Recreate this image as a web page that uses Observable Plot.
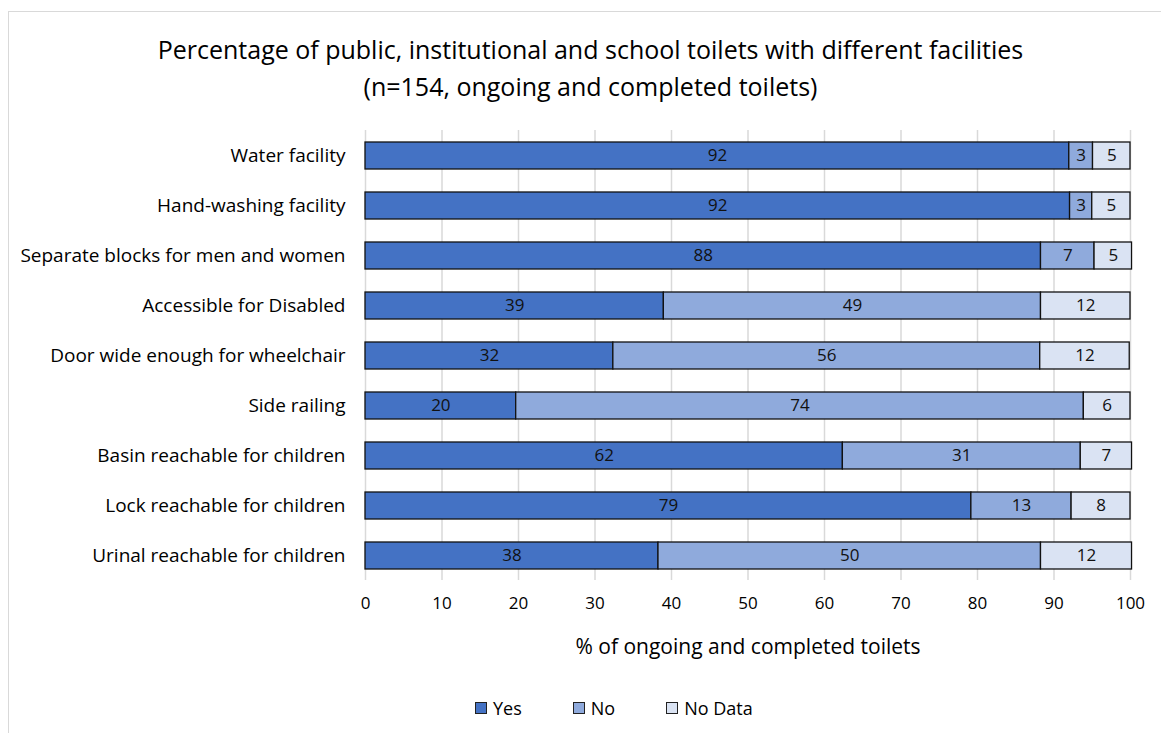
<!DOCTYPE html>
<html>
<head>
<meta charset="utf-8">
<script src="https://cdn.jsdelivr.net/npm/d3@7"></script>
<script src="https://cdn.jsdelivr.net/npm/@observablehq/plot@0.6"></script>
<style>
  html, body { margin: 0; padding: 0; background: #fff; }
  body { width: 1161px; height: 733px; overflow: hidden; position: relative; font-family: "Open Sans", "Liberation Sans", sans-serif; color: #000; }
  #frame { position: absolute; left: 8px; top: 11px; width: 1300px; height: 900px; border: 1.5px solid #d9d9d9; box-sizing: border-box; }
  #title { position: absolute; left: 0; top: 31px; width: 1181px; text-align: center; font-size: 25px; line-height: 37px; }
  #chart { position: absolute; left: 0; top: 110px; }
  #legend { position: absolute; left: 475px; top: 696px; font-size: 18px; line-height: 24px; display: flex; align-items: center; white-space: nowrap; }
  #legend span.item { display: inline-flex; align-items: center; margin-right: 51px; }
  #legend span.item:last-child { margin-right: 0; }
  #legend span.sw { display: inline-block; width: 10px; height: 10px; border: 1.5px solid #222; margin-right: 6px; }
</style>
</head>
<body>
<div id="frame"></div>
<div id="title">Percentage of public, institutional and school toilets with different facilities<br>(n=154, ongoing and completed toilets)</div>
<div id="chart"></div>
<div id="legend"></div>
<script>
const categories = [
  "Water facility",
  "Hand-washing facility",
  "Separate blocks for men and women",
  "Accessible for Disabled",
  "Door wide enough for wheelchair",
  "Side railing",
  "Basin reachable for children",
  "Lock reachable for children",
  "Urinal reachable for children"
];
const seriesNames = ["Yes", "No", "No Data"];
const seriesColors = ["#4472C4", "#8FAADC", "#DAE3F3"];
const yesValues    = [92.0, 92.1, 88.3, 39.0, 32.4, 19.7, 62.4, 79.2, 38.3];
const noValues     = [3.1, 2.9, 7.0, 49.3, 55.8, 74.2, 31.1, 13.1, 50.0];
const noDataValues = [4.9, 5.0, 4.9, 11.7, 11.7, 6.1, 6.7, 7.7, 11.9];
const xTicks = [0, 10, 20, 30, 40, 50, 60, 70, 80, 90, 100];
const xLabel = "% of ongoing and completed toilets";

const seriesValues = [yesValues, noValues, noDataValues];
const data = [];
seriesNames.forEach((s, si) => {
  categories.forEach((c, ci) => {
    data.push({category: c, series: s, value: seriesValues[si][ci]});
  });
});

const font = "'Open Sans', 'Liberation Sans', sans-serif";

const chart = Plot.plot({
  width: 1161,
  height: 570,
  marginLeft: 365,
  marginRight: 31,
  marginTop: 20,
  marginBottom: 100,
  style: {fontFamily: font, fontSize: "17px", color: "#000", background: "transparent", overflow: "visible"},
  x: {domain: [0, 100], ticks: xTicks},
  y: {domain: categories, paddingInner: 0.46, paddingOuter: 0.23},
  color: {domain: seriesNames, range: seriesColors},
  marks: [
    Plot.gridX(xTicks, {stroke: "#d9d9d9", strokeOpacity: 1, strokeWidth: 1.5}),
    Plot.barX(data, Plot.stackX({
      x: "value", y: "category", z: "series", order: seriesNames,
      fill: "series", stroke: "#111", strokeWidth: 1.3
    })),
    Plot.text(data, Plot.stackX({
      x: "value", y: "category", z: "series", order: seriesNames,
      text: d => String(Math.round(d.value)), fill: "#111", fontSize: 17
    })),
    Plot.axisX(xTicks, {tickSize: 0, tickPadding: 16, fontSize: 17, label: null}),
    Plot.axisX({tickSize: 0, ticks: [], label: xLabel, labelAnchor: "center", labelOffset: 73, labelArrow: "none", fontSize: 21}),
    Plot.axisY({tickSize: 0, tickPadding: 20, fontSize: 19, label: null})
  ]
});
document.getElementById("chart").appendChild(chart);

const legend = document.getElementById("legend");
seriesNames.forEach((s, i) => {
  const item = document.createElement("span");
  item.className = "item";
  const sw = document.createElement("span");
  sw.className = "sw";
  sw.style.background = seriesColors[i];
  item.appendChild(sw);
  item.appendChild(document.createTextNode(s));
  legend.appendChild(item);
});
</script>
</body>
</html>
